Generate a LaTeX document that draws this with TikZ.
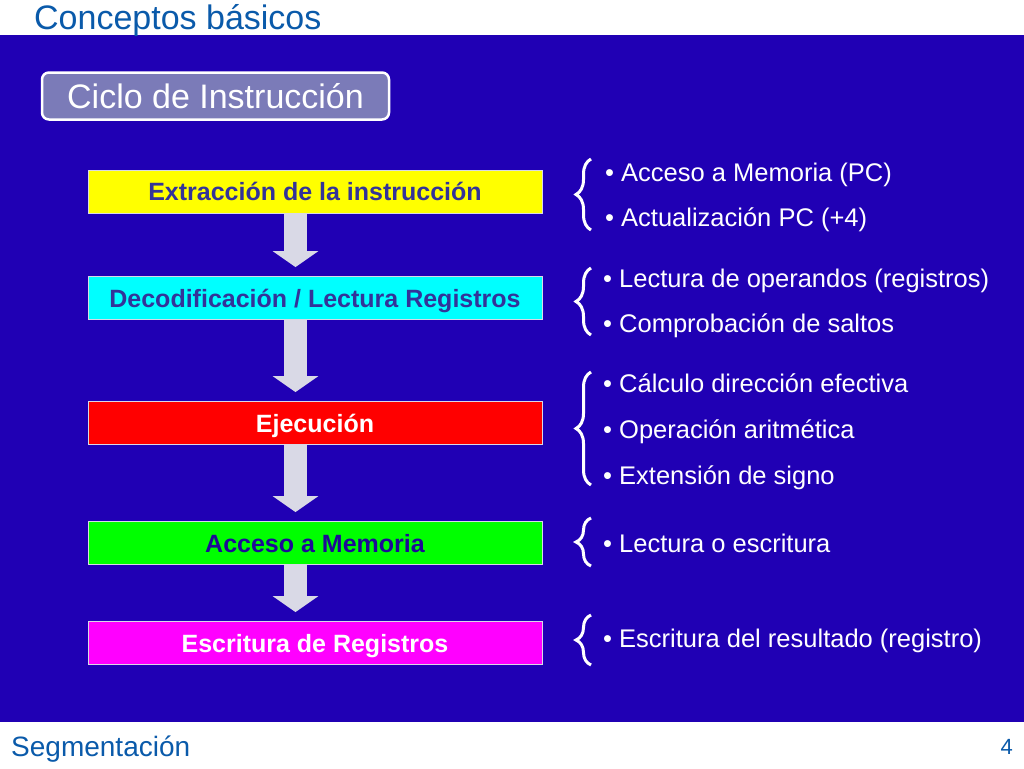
\documentclass[tikz,border=0pt]{standalone}
\usepackage{fontspec}
\setmainfont{Liberation Sans}
\usetikzlibrary{arrows.meta, decorations.pathreplacing}
\definecolor{fondo}{HTML}{2000B4}
\definecolor{titulo}{HTML}{0A5AAA}
\definecolor{etiqueta}{HTML}{7B7BB8}
\definecolor{flecha}{HTML}{D9D9E6}
\definecolor{tinta}{HTML}{333399}
\definecolor{tintaosc}{HTML}{1E0A96}
\definecolor{amarillo}{HTML}{FFFF00}
\definecolor{celeste}{HTML}{00FFFF}
\definecolor{rojo}{HTML}{FF0000}
\definecolor{verde}{HTML}{00FF00}
\definecolor{rosa}{HTML}{FF00FF}

\begin{document}
\begin{tikzpicture}[x=1pt, y=1pt,
    etapa/.style={draw=flecha, line width=0.8pt, minimum width=454pt, minimum height=43pt,
      inner sep=0pt, text height=18pt, text depth=0pt, font=\fontsize{25}{28}\selectfont\bfseries},
    paso/.style={flecha, line width=23pt, -{Triangle[width=45pt, length=16pt]}, shorten >=9pt},
    punto/.style={anchor=west, inner sep=0pt, text height=18pt, text depth=0pt, text=white,
      font=\fontsize{25.5}{28}\selectfont},
    llave/.style={white, line width=3pt, decorate, decoration={brace, amplitude=15pt}}]
      \useasboundingbox (0,0) rectangle (1024,-768);
      \fill[white] (0,0) rectangle (1024,-768);

      % Slide background
      \fill[fondo] (0,-35) rectangle (1024,-722);
      \node[anchor=base west, inner sep=0pt, text=titulo, font=\fontsize{34}{36}\selectfont] (tit) at (34,-30) {Conceptos básicos};
      \node[anchor=base west, inner sep=0pt, text=titulo, font=\fontsize{28}{30}\selectfont] (pie) at (11,-756) {Segmentación};
      \node[anchor=base east, inner sep=0pt, text=titulo, font=\fontsize{22}{24}\selectfont] (num) at (1013,-754) {4};

      % Label box
      \node[draw=white, line width=2.5pt, rounded corners=7pt, fill=etiqueta, text=white,
        minimum width=347pt, minimum height=47pt, inner sep=0pt, text height=25pt, text depth=0pt,
        font=\fontsize{34}{38}\selectfont] (ciclo) at (215.5,-96) {Ciclo de Instrucción};

      % Stages
      \node[etapa, fill=amarillo, text=tinta] (b1) at (315,-191.5) {Extracción de la instrucción};
      \node[etapa, fill=celeste, text=tinta] (b2) at (315,-298) {Decodificación / Lectura Registros};
      \node[etapa, fill=rojo, text=white] (b3) at (315,-423) {Ejecución};
      \node[etapa, fill=verde, text=tintaosc] (b4) at (315,-543) {Acceso a Memoria};
      \node[etapa, fill=rosa, text=white] (b5) at (315,-643) {Escritura de Registros};

      % Arrows between stages
      \coordinate (ax) at (295.5,0);
      \foreach \a/\b in {b1/b2, b2/b3, b3/b4, b4/b5}
        \draw[paso] (\a.south -| ax) -- (\b.north -| ax);

      % Details of each stage
      \node[punto] (g1a) at (605,-172) {• Acceso a Memoria (PC)};
      \node[punto] (g1b) at (605,-217) {• Actualización PC (+4)};
      \node[punto] (g2a) at (603,-278) {• Lectura de operandos (registros)};
      \node[punto] (g2b) at (603,-323) {• Comprobación de saltos};
      \node[punto] (g3a) at (603,-383) {• Cálculo dirección efectiva};
      \node[punto] (g3b) at (603,-429) {• Operación aritmética};
      \node[punto] (g3c) at (603,-475) {• Extensión de signo};
      \node[punto] (g4a) at (603,-543) {• Lectura o escritura};
      \node[punto] (g5a) at (603,-638) {• Escritura del resultado (registro)};

      % Braces
      \coordinate (bx) at (591,0);
      \draw[llave] ([yshift=-13pt]g1b.west -| bx) -- ([yshift=13pt]g1a.west -| bx);
      \draw[llave] ([yshift=-12pt]g2b.west -| bx) -- ([yshift=10pt]g2a.west -| bx);
      \draw[llave] ([yshift=-10pt]g3c.west -| bx) -- ([yshift=11pt]g3a.west -| bx);
      \draw[llave] ([yshift=-23pt]g4a.west -| bx) -- ([yshift=25pt]g4a.west -| bx);
      \draw[llave] ([yshift=-27pt]g5a.west -| bx) -- ([yshift=23pt]g5a.west -| bx);
    \end{tikzpicture}
\end{document}
